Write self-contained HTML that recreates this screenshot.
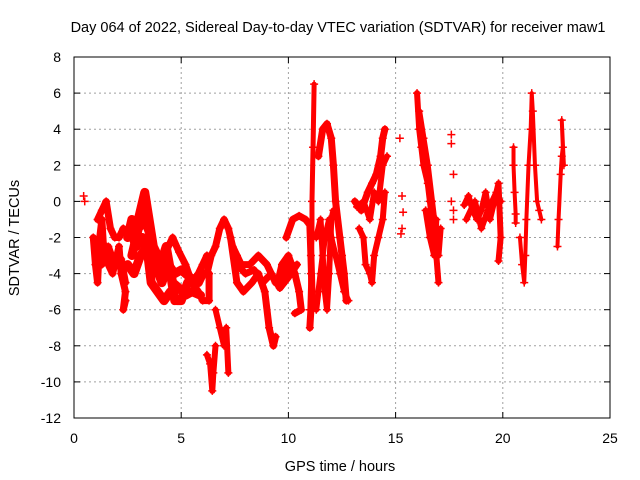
<!DOCTYPE html>
<html><head><meta charset="utf-8"><style>
body{margin:0;background:#fff}
svg{display:block;font-family:"Liberation Sans",sans-serif}
</style></head><body>
<svg id="chart" width="640" height="480" viewBox="0 0 640 480" xmlns="http://www.w3.org/2000/svg">
<text x="338" y="32" font-size="14.5" text-anchor="middle">Day 064 of 2022, Sidereal Day-to-day VTEC variation (SDTVAR) for receiver maw1</text>
<text x="340" y="471" font-size="14.5" text-anchor="middle">GPS time / hours</text>
<text transform="translate(19,238) rotate(-90)" font-size="14.5" text-anchor="middle">SDTVAR / TECUs</text>
<g id="grid"></g>
<g id="ticks"></g>
<g id="marks"></g>
<rect x="74" y="57" width="536" height="361" fill="none" stroke="#000" stroke-width="1"/>
</svg>
<script>
const xTicks=[0,5,10,15,20,25];
const yTicks=[-12,-10,-8,-6,-4,-2,0,2,4,6,8];
const trackA=[[0.45,0.3],[0.5,0]];
const trackB=[[0.9,-2],[1.0,-3.5],[1.1,-4.5],[1.2,-2],[1.3,-1],[1.4,-3],[1.5,-2.5],[1.6,-3.5],[1.8,-4],[2.0,-3],[2.1,-2.5],[2.2,-4],[2.4,-5],[2.3,-6],[2.4,-5.5]];
const trackB2=[[1.1,-1],[1.3,-0.5],[1.5,0],[1.7,-1.5],[1.9,-2],[2.1,-2],[2.3,-1.5]];
const trackB3=[[1.0,-2.5],[1.3,-3.5],[1.6,-2.5],[1.9,-3.5],[2.2,-3.2],[2.4,-4.5]];
const trackC=[[2.5,-2],[2.7,-1],[2.9,-1.5],[3.1,-0.5],[3.3,0.5],[3.5,-1],[3.7,-2.5],[3.9,-3],[4.2,-3.5],[4.5,-4],[4.7,-5.5]];
const trackC2=[[2.5,-3.5],[2.8,-4],[3.1,-3],[3.4,-2.5],[3.6,-4.5],[3.9,-5],[4.2,-5.5],[4.5,-5],[4.8,-5.5],[5.0,-5.5],[5.3,-4.5]];
const trackC3=[[2.6,-1.5],[2.9,-2.5],[3.2,-2],[3.5,-3],[3.8,-3.5],[4.1,-4.5],[4.4,-3.5],[4.7,-4],[5.0,-3.8],[5.4,-4.2],[5.8,-4.5],[6.0,-4]];
const trackC4=[[2.7,-3],[3.0,-1.5],[3.3,-1],[3.6,-2],[3.9,-4],[4.3,-2.5],[4.6,-4.5],[4.9,-4.8],[5.2,-5.2],[5.5,-5.0],[5.9,-5.2]];
const trackD=[[4.2,-3],[4.6,-2],[4.9,-2.8],[5.2,-3.5],[5.5,-4.5],[5.8,-4],[6.0,-3.5],[6.2,-3]];
const trackD2=[[5.5,-4.5],[5.8,-5],[6.0,-5.5],[6.3,-5.5],[6.3,-4]];
const trackE=[[6.2,-4],[6.4,-3],[6.6,-2.5],[6.8,-1.5],[7.0,-1],[7.2,-1.5],[7.4,-2.5],[7.6,-3],[7.8,-3.5],[8.2,-3.5],[8.6,-3],[9.0,-3.5],[9.4,-4.5],[9.8,-4.5],[10.0,-3.5]];
const trackE2=[[7.6,-3.5],[8.0,-4],[8.4,-3.8],[8.8,-4.5],[9.2,-4],[9.6,-4.8],[10.0,-4.2],[10.4,-3.5]];
const dip1=[[6.2,-8.5],[6.35,-9],[6.45,-10.5],[6.5,-9.5],[6.6,-8]];
const dip2=[[6.6,-6],[6.8,-7],[7.0,-8],[7.1,-7],[7.2,-9.5]];
const trackF=[[7.3,-2],[7.6,-4.5],[7.9,-5],[8.3,-4.5],[8.6,-4],[8.9,-5],[9.1,-7],[9.3,-8],[9.4,-7.5]];
const trackG=[[9.5,-4.5],[9.7,-3.5],[10.0,-3],[10.3,-4],[10.5,-5],[10.6,-6],[10.3,-6.2]];
const trackG2=[[9.9,-2],[10.2,-1],[10.5,-0.8],[10.8,-1],[11.0,-1.3],[11.05,-3],[11.1,-5],[11.0,-7]];
const spike=[[11.0,-6],[11.05,-4],[11.1,-2],[11.1,0],[11.15,3],[11.2,6.5]];
const loop1=[[11.3,-2],[11.5,-1],[11.6,-3],[11.7,-5],[11.8,-6],[11.9,-4],[12.0,-1],[12.1,-0.5]];
const hump=[[11.4,2.5],[11.6,4],[11.8,4.3],[12.0,3.5],[12.1,2],[12.2,0],[12.4,-2],[12.5,-3],[12.6,-4],[12.7,-5.5]];
const rise=[[11.3,-6],[11.5,-4],[11.7,-2],[11.9,-1],[12.0,-2],[12.2,-3],[12.4,-4],[12.6,-5],[12.8,-5.5]];
const trackH=[[13.1,0],[13.4,-0.5],[13.7,0.5],[13.9,1],[14.1,1.5],[14.3,2.5],[14.4,3.5],[14.5,4]];
const trackH2=[[13.3,-1.5],[13.5,-2],[13.6,-3.5],[13.8,-4],[13.9,-4.5],[14.0,-3],[14.2,-2],[14.4,-1],[14.5,0.5]];
const trackH3=[[13.2,-0.3],[13.5,0],[13.8,-1],[14.0,0.5],[14.2,0],[14.4,2],[14.6,2.5]];
const isolated1=[[15.2,3.5],[15.3,-1.5],[15.25,-1.8],[15.3,0.3],[15.35,-0.6]];
const trackI=[[16.0,6],[16.1,4],[16.2,3],[16.3,2],[16.5,1],[16.6,0],[16.7,-1],[16.8,-2],[16.9,-3],[17.0,-4.5]];
const trackI2=[[16.4,-0.5],[16.6,-2],[16.8,-3],[16.9,-1]];
const trackI3=[[16.1,5],[16.3,3.5],[16.5,2],[16.7,0],[16.9,-2],[17.0,-3],[17.1,-1.5]];
const isolated2=[[17.6,3.7],[17.6,3.2],[17.7,1.5],[17.6,0],[17.7,-0.5],[17.7,-1]];
const trackJ=[[18.2,-0.2],[18.4,0.3],[18.6,-0.5],[18.8,-1],[19.0,-0.5],[19.2,0.5],[19.4,-1],[19.6,0],[19.8,1],[19.9,-2],[19.8,-3.3]];
const trackJ2=[[18.3,-1],[18.7,0],[19.0,-1.5],[19.3,-0.5],[19.7,0.5],[19.9,0]];
const trackK=[[20.5,3],[20.5,2],[20.55,0.5],[20.6,-0.7],[20.6,-1.2]];
const trackL=[[20.8,-2],[20.9,-3.5],[21.0,-4.5],[21.05,-3],[21.1,-1],[21.2,2],[21.3,4],[21.35,6],[21.4,5],[21.5,2],[21.6,0],[21.7,-0.5],[21.8,-1]];
const trackM=[[22.55,-2.5],[22.6,-1],[22.7,1.5],[22.75,2.5],[22.8,3],[22.75,4.5],[22.85,2]];
const tracks=[trackA,trackB,trackB2,trackB3,trackC,trackC2,trackC3,trackC4,trackD,trackD2,trackE,trackE2,dip1,dip2,trackF,trackG,trackG2,spike,loop1,hump,rise,trackH,trackH2,trackH3,isolated1,trackI,trackI2,trackI3,isolated2,trackJ,trackJ2,trackK,trackL,trackM];
const connected=[false,true,true,true,true,true,true,true,true,true,true,true,true,true,true,true,true,true,true,true,true,true,true,true,false,true,true,true,false,true,true,true,true,true];
const widths=[0,7,7,7,9,9,9,9,7,7,7,7,6,6,7,7,7,5,6,7,6,7,6,6,0,6,6,6,0,6,6,4,4,4];

const NS="http://www.w3.org/2000/svg";
const X0=74,X1=610,Y0=418,Y1=57;
function sx(h){return X0+(h-0)/(25-0)*(X1-X0);}
function sy(v){return Y0-(v+12)/(8+12)*(Y0-Y1);}
const grid=document.getElementById('grid'),ticks=document.getElementById('ticks'),marks=document.getElementById('marks');
function mk(tag,attrs,parent){const e=document.createElementNS(NS,tag);for(const k in attrs)e.setAttribute(k,attrs[k]);parent.appendChild(e);return e;}
xTicks.forEach(t=>{
  const x=sx(t);
  if(t>0&&t<25){const g=mk('line',{x1:x,x2:x,y1:Y1,y2:Y0,stroke:'#a0a0a0','stroke-dasharray':'2,3'},grid);
  
  }
  mk('line',{x1:x,x2:x,y1:Y0,y2:Y0-6,stroke:'#000'},ticks);
  mk('line',{x1:x,x2:x,y1:Y1,y2:Y1+6,stroke:'#000'},ticks);
  const l=mk('text',{x:x,y:Y0+25,'font-size':'14','text-anchor':'middle'},ticks);
  l.textContent=t;
  
  
});
yTicks.forEach(t=>{
  const y=sy(t);
  if(t>-12&&t<8){const g=mk('line',{x1:X0,x2:X1,y1:y,y2:y,stroke:'#a0a0a0','stroke-dasharray':'2,3'},grid);
  
  }
  mk('line',{x1:X0,x2:X0+6,y1:y,y2:y,stroke:'#000'},ticks);
  mk('line',{x1:X1,x2:X1-6,y1:y,y2:y,stroke:'#000'},ticks);
  const l=mk('text',{x:X0-13,y:y+5,'font-size':'14','text-anchor':'end'},ticks);
  l.textContent=t;
  
  
});
tracks.forEach((tr,i)=>{
  if(connected[i]){
    const p=mk('polyline',{points:tr.map(d=>sx(d[0])+','+sy(d[1])).join(' '),fill:'none',stroke:'#f00','stroke-width':widths[i],'stroke-linejoin':'round','stroke-linecap':'round'},marks);
    
    
  }
  tr.forEach(d=>{
    const x=sx(d[0]),y=sy(d[1]);
    const m=mk('path',{d:`M${x-4},${y}h8M${x},${y-4}v8`,stroke:'#f00','stroke-width':'1.5'},marks);
    
    
  });
});
</script>
</body></html>
